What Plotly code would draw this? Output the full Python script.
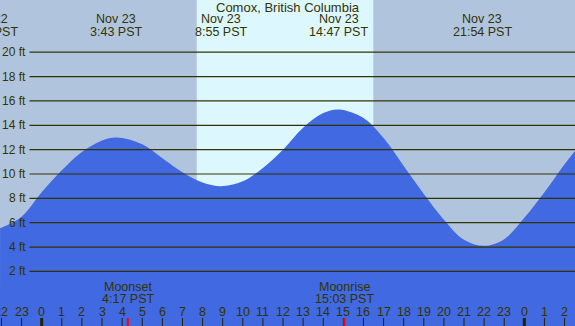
import plotly.graph_objects as go

# ---- data ----
title = "Comox, British Columbia"

# tide height (ft) vs hour of Nov 23 (PST)
tide_hours = [-2.07, -1, 0, 1, 2, 3, 3.72, 5, 6, 7, 8, 8.92, 10, 11, 12, 13, 14,
              14.78, 16, 17, 18, 19, 20, 21, 22, 23, 24, 25, 26, 26.52]
tide_ft = [5.54, 6.5, 8.5, 10.3, 11.8, 12.75, 13.0, 12.45, 11.3, 10.15, 9.3, 9.0,
           9.4, 10.5, 12.0, 13.8, 15.0, 15.3, 14.6, 12.95, 10.65, 8.35, 6.25, 4.6, 4.1,
           4.65, 6.4, 8.5, 10.8, 11.9]

extreme_dates = ["Nov 22", "Nov 23", "Nov 23", "Nov 23", "Nov 23"]
extreme_times = ["21:20 PST", "3:43 PST", "8:55 PST", "14:47 PST", "21:54 PST"]
extreme_hours = [-2.67, 3.717, 8.917, 14.783, 21.9]

moon_events = ["Moonset", "Moonrise"]
moon_times = ["4:17 PST", "15:03 PST"]
moon_hours = [4.283, 15.05]

sunrise_hour = 7.71
sunset_hour = 16.49

grid_ft = [2, 4, 6, 8, 10, 12, 14, 16, 18, 20]
hour_ticks = list(range(-2, 27))
hour_labels = [str(h % 24) for h in hour_ticks]

# ---- layout constants ----
W, H = 575, 326
PX_PER_H = 20.11
X0_PX = 41.7
XMIN = -X0_PX / PX_PER_H
XMAX = (W - X0_PX) / PX_PER_H
ZERO_PX = 295.8
PX_PER_FT = 12.18
YMAX = ZERO_PX / PX_PER_FT
YMIN = (ZERO_PX - H) / PX_PER_FT

NIGHT = "#B0C4DE"
DAY = "#DDF7FF"
WATER = "#4169E1"
INK = "#333300"
FONT = "Liberation Sans, Arial, sans-serif"
FS = 12.5


def py(p):
    return 1 - p / H


def txt(size=FS):
    return dict(family=FONT, size=size, color=INK)


fig = go.Figure()
fig.add_trace(go.Scatter(x=[XMIN, XMAX], y=[YMIN - 1, YMIN - 1], mode="lines",
                         line=dict(width=0), hoverinfo="skip", showlegend=False))
fig.add_trace(go.Scatter(x=tide_hours, y=tide_ft, mode="lines", fill="tonexty",
                         line=dict(shape="spline", smoothing=1.0, width=0, color=WATER),
                         fillcolor=WATER, hoverinfo="skip", showlegend=False))

shapes = []
shapes.append(dict(type="rect", xref="x", yref="paper", x0=sunrise_hour, x1=sunset_hour,
                   y0=0, y1=1, fillcolor=DAY, line=dict(width=0), layer="below"))
for g in grid_ft:
    shapes.append(dict(type="line", xref="paper", yref="y", x0=29.5 / W, x1=1, y0=g, y1=g,
                       line=dict(color=INK, width=1.2), layer="above"))

annotations = []
for g in grid_ft:
    annotations.append(dict(xref="paper", yref="y", x=27.5 / W, y=g, text=f"{g} ft",
                            showarrow=False, xanchor="right", yanchor="middle", font=txt(12)))

# hour ticks and labels
for h, lab in zip(hour_ticks, hour_labels):
    midnight = (h % 24 == 0)
    shapes.append(dict(type="line", xref="x", yref="paper", x0=h, x1=h,
                       y0=py(H), y1=py(318), line=dict(color="#222200", width=3 if midnight else 1)))
    annotations.append(dict(xref="x", yref="paper", x=h, y=py(311.5), text=lab, showarrow=False,
                            xanchor="center", yanchor="middle", font=txt()))

# moon events
for ev, t, h in zip(moon_events, moon_times, moon_hours):
    shapes.append(dict(type="line", xref="x", yref="paper", x0=h, x1=h,
                       y0=py(H), y1=py(318), line=dict(color="red", width=2)))
    annotations.append(dict(xref="x", yref="paper", x=h, y=py(287.3), text=ev, showarrow=False,
                            xanchor="center", yanchor="middle", font=txt()))
    annotations.append(dict(xref="x", yref="paper", x=h, y=py(299.3), text=t, showarrow=False,
                            xanchor="center", yanchor="middle", font=txt()))

# extreme labels at top
for d, t, h in zip(extreme_dates, extreme_times, extreme_hours):
    xp = (X0_PX + h * PX_PER_H) / W
    annotations.append(dict(xref="paper", yref="paper", x=xp, y=py(19.5), text=d, showarrow=False,
                            xanchor="center", yanchor="middle", font=txt()))
    annotations.append(dict(xref="paper", yref="paper", x=xp, y=py(31.5), text=t, showarrow=False,
                            xanchor="center", yanchor="middle", font=txt()))

annotations.append(dict(xref="paper", yref="paper", x=0.5, y=py(7.3), text=title, showarrow=False,
                        xanchor="center", yanchor="middle", font=txt(13)))

fig.update_layout(
    width=W, height=H, margin=dict(l=0, r=0, t=0, b=0),
    paper_bgcolor=NIGHT, plot_bgcolor=NIGHT,
    xaxis=dict(range=[XMIN, XMAX], visible=False, fixedrange=True),
    yaxis=dict(range=[YMIN, YMAX], visible=False, fixedrange=True),
    shapes=shapes, annotations=annotations, showlegend=False,
)
fig.write_html("out.html", config={"displayModeBar": False},
               post_script="document.body.style.margin='0';document.body.style.overflow='hidden';")
